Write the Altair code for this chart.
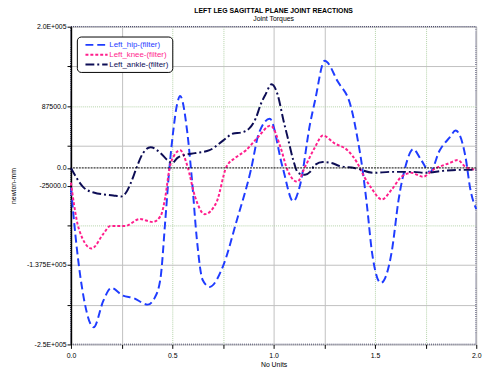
import altair as alt
import pandas as pd

names = ["Left_hip-(filter)", "Left_knee-(filter)", "Left_ankle-(filter)"]
colors = ["#1f3cff", "#ff1e8c", "#0d0d55"]

hip_x = [0.000, 0.029, 0.063, 0.112, 0.160, 0.199, 0.257, 0.306, 0.379, 0.413, 0.442, 0.466,
         0.485, 0.505, 0.524, 0.539, 0.573, 0.597, 0.621, 0.650, 0.684, 0.752, 0.816, 0.888,
         0.927, 0.981, 1.044, 1.097, 1.131, 1.180, 1.204, 1.252, 1.316, 1.383, 1.413, 1.437,
         1.461, 1.485, 1.529, 1.583, 1.617, 1.650, 1.689, 1.728, 1.772, 1.820, 1.869, 1.898,
         1.947, 1.971, 2.000]
hip_y = [-28000, -114000, -184000, -225700, -188000, -170000, -181000, -184000, -193600, -184000,
         -156000, -72400, -2800, 52900, 90500, 101700, 52900, -16700, -100300, -158800, -168500,
         -137900, -76600, -2800, 48800, 69600, 1400, -47400, -23700, 62700, 94700, 151800, 122600,
         85000, 43200, 1400, -54300, -118400, -163000, -118400, -44600, 1400, 26500, 11100, -5600,
         25100, 43200, 52900, 15300, -30600, -58500]

knee_x = [0.000, 0.015, 0.039, 0.102, 0.160, 0.194, 0.267, 0.340, 0.403, 0.442, 0.466, 0.485,
          0.510, 0.539, 0.573, 0.612, 0.660, 0.718, 0.767, 0.816, 0.864, 0.922, 0.985, 1.034,
          1.068, 1.117, 1.155, 1.204, 1.243, 1.301, 1.364, 1.413, 1.447, 1.481, 1.534, 1.583,
          1.631, 1.680, 1.738, 1.786, 1.869, 1.908, 1.947, 2.000]
knee_y = [-20900, -51500, -86400, -114200, -93300, -82200, -82200, -72400, -76600, -68300, -40400,
          -2800, 18100, 25100, 4200, -40400, -65500, -48800, 1400, 15300, 25100, 43200, 59900,
          29300, -2800, -19500, 1400, 29300, 46000, 34800, 25100, 7000, -12500, -27900, -44600,
          -30600, -12500, -7000, -12500, -2800, 7000, 11100, 1400, -2800]

ankle_x = [0.000, 0.063, 0.112, 0.209, 0.248, 0.272, 0.296, 0.320, 0.345, 0.393, 0.442, 0.476,
           0.500, 0.524, 0.558, 0.612, 0.684, 0.752, 0.801, 0.840, 0.879, 0.913, 0.937, 0.961,
           0.990, 1.019, 1.049, 1.073, 1.097, 1.121, 1.155, 1.180, 1.204, 1.243, 1.286, 1.325,
           1.398, 1.495, 1.578, 1.689, 1.752, 1.835, 1.908, 2.000]
ankle_y = [0, -27900, -34800, -39000, -40400, -34800, -20900, -2800, 15300, 29300, 20900, 11100,
           7000, 13900, 18100, 20900, 25100, 39000, 48800, 50100, 55700, 71000, 90500, 104500,
           118400, 104500, 66900, 39000, 11100, -7000, -9800, -5600, 4200, 8400, 7000, 2800,
           0, -7000, -5600, -5600, -7000, -4200, -2800, -2800]

y_ticks = [200000, 143750, 87500, 31250, 0, -25000, -81250, -137500, -193750, -250000]
x_ticks = [0, 0.25, 0.5, 0.75, 1.0, 1.25, 1.5, 1.75, 2.0]

rows = []
for n, xs, ys in zip(names, [hip_x, knee_x, ankle_x], [hip_y, knee_y, ankle_y]):
    for i, (a, b) in enumerate(zip(xs, ys)):
        rows.append({"series": n, "t": a, "v": b, "i": i})
df = pd.DataFrame(rows)

FONT = "Liberation Sans"

y_label_expr = ("datum.value == 200000 ? '2.0E+005' : datum.value == 87500 ? '87500.0' : "
                "datum.value == 0 ? '0.0' : datum.value == -25000 ? '-25000.0' : "
                "datum.value == -137500 ? '-1.375E+005' : datum.value == -250000 ? '-2.5E+005' : ''")

xscale = alt.Scale(domain=[0, 2], nice=False, zero=False)
yscale = alt.Scale(domain=[-250000, 200000], nice=False, zero=False)

y_axis = alt.Axis(
    values=y_ticks, title="newton-mm", labelExpr=y_label_expr, labelOverlap=False, labelFlush=False,
    gridColor={"expr": "(datum.value == 87500 || datum.value == -81250) ? '#b4d2a8' : '#c0c0c0'"},
    gridDash={"expr": "(datum.value == 87500 || datum.value == -81250) ? [1, 1] : []"},
    gridOpacity={"expr": "datum.value == 0 ? 0 : 1"},
    titlePadding=10, labelPadding=1, domainColor="black", domainWidth=1.5)

lines = alt.Chart(df).mark_line(interpolate="monotone").encode(
    x=alt.X("t:Q", scale=xscale, axis=alt.Axis(
        values=x_ticks, title="No Units", domain=False, labelOverlap=False, labelFlush=False,
        labelExpr="datum.value % 0.5 == 0 ? format(datum.value, '.1f') : ''",
        gridColor={"expr": "(datum.value == 0.5 || datum.value == 0.75 || datum.value == 1.5 || datum.value == 1.75) ? '#b4d2a8' : '#c0c0c0'"},
        gridDash={"expr": "(datum.value == 0.5 || datum.value == 0.75 || datum.value == 1.5 || datum.value == 1.75) ? [1, 1] : []"},
        titlePadding=2, labelPadding=3)),
    y=alt.Y("v:Q", scale=yscale, axis=y_axis),
    color=alt.Color("series:N", scale=alt.Scale(domain=names, range=colors), sort=names,
                    legend=alt.Legend(title=None)),
    strokeDash=alt.StrokeDash("series:N", sort=names,
                              scale=alt.Scale(domain=names, range=[[8, 4], [3, 2], [9, 3, 2, 3]]),
                              legend=alt.Legend(title=None)),
    strokeWidth=alt.StrokeWidth("series:N", sort=names,
                                scale=alt.Scale(domain=names, range=[2, 2, 3]), legend=None),
    order="i:Q",
)

zero = alt.Chart(pd.DataFrame({"z": [0]})).mark_rule(color="black", strokeDash=[2, 1], strokeWidth=1).encode(
    y=alt.Y("z:Q", scale=yscale, axis=y_axis)
)

chart = alt.layer(lines, zero).properties(
    width=412, height=323,
    title=alt.Title("LEFT LEG SAGITTAL PLANE JOINT REACTIONS", subtitle="Joint Torques",
                    fontSize=7, subtitleFontSize=7, font=FONT, subtitleFont=FONT,
                    fontWeight="bold", subtitleFontWeight="normal", anchor="middle",
                    offset=1, subtitlePadding=1, color="black", subtitleColor="black"),
    autosize=alt.AutoSizeParams(type="none"),
    padding={"left": 64, "top": 16, "right": 16, "bottom": 24},
).configure_view(
    stroke="#101040", strokeDash=[1, 1], strokeWidth=1.5
).configure_axis(
    labelFont=FONT, titleFont=FONT, labelFontSize=7, titleFontSize=7,
    labelColor="black", titleColor="black", titleFontWeight="normal",
    tickColor="black", tickSize=4, gridWidth=1, labelOverlap=False,
).configure_legend(
    orient="none", legendX=6, legendY=10, fillColor="white", strokeColor="black",
    cornerRadius=4, padding=3, symbolType="M-2.5,0H2.5", symbolSize=81, symbolStrokeWidth=2.5,
    symbolOffset=11.5, labelFont=FONT, labelFontSize=8, rowPadding=0, labelOffset=7.5,
    labelColor={"expr": "datum.value == 'Left_hip-(filter)' ? '#1f3cff' : datum.value == 'Left_knee-(filter)' ? '#ff1e8c' : '#0d0d55'"},
)

chart.save("out.html", embed_options={"renderer": "svg", "actions": False})
